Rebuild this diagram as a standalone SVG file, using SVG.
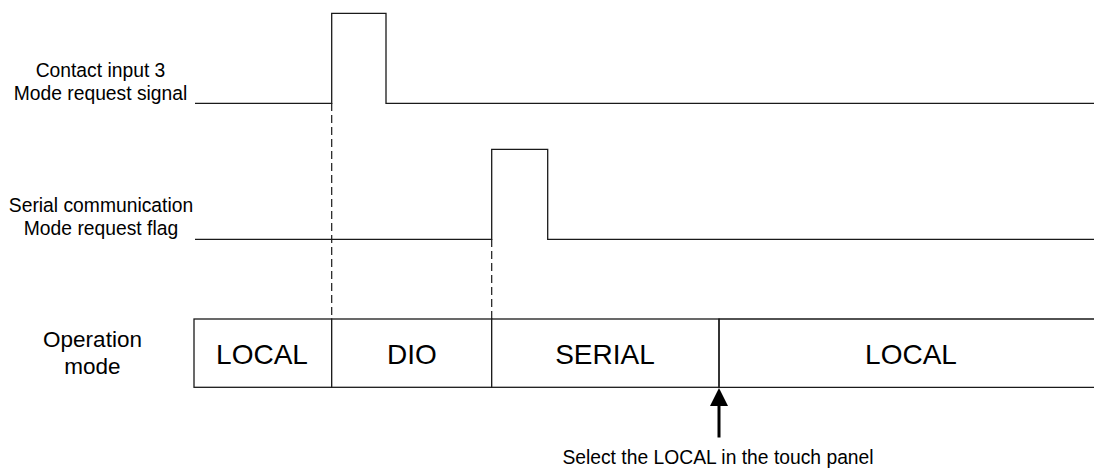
<svg xmlns="http://www.w3.org/2000/svg" width="1094" height="470" viewBox="0 0 1094 470">
<style>
.sig{fill:none;stroke:#1a1a1a;stroke-width:1.3}
.dash{fill:none;stroke:#1a1a1a;stroke-width:1.2;stroke-dasharray:8 4}
.lbl{font-family:"Liberation Sans",Arial,sans-serif;fill:#000;text-anchor:middle}
.sm{font-size:19.3px}
.md{font-size:22.5px}
.lg{font-size:28px}
.box{fill:#fff;stroke:#1a1a1a;stroke-width:1.3}
</style>
<rect width="1094" height="470" fill="#fff"/>
<g id="label-contact">
<text class="lbl sm" x="100.5" y="77">Contact input 3</text>
<text class="lbl sm" x="100.5" y="100">Mode request signal</text>
</g>
<g id="label-serial">
<text class="lbl sm" x="101" y="212">Serial communication</text>
<text class="lbl sm" x="101" y="235">Mode request flag</text>
</g>
<g id="label-opmode">
<text class="lbl md" x="92.5" y="347">Operation</text>
<text class="lbl md" x="92.5" y="374">mode</text>
</g>
<g id="connectors">
<path class="dash" d="M331.7,103 V319"/>
<path class="dash" d="M491.7,239 V319"/>
<path class="sig" d="M195,103.3 H331.7 V13.3 H386 V103.3 H1094"/>
<path class="sig" d="M195,239.3 H491.7 V149.3 H547.7 V239.3 H1094"/>
<path d="M719,437.5 V403" stroke="#000" stroke-width="3" fill="none"/>
<polygon points="719,388 710,406 728,406" fill="#000"/>
</g>
<g id="mode-local1">
<rect class="box" x="194" y="319" width="137.7" height="68.3"/>
<text class="lbl lg" x="262" y="364">LOCAL</text>
</g>
<g id="mode-dio">
<rect class="box" x="331.7" y="319" width="160" height="68.3"/>
<text class="lbl lg" x="412" y="364">DIO</text>
</g>
<g id="mode-serial">
<rect class="box" x="491.7" y="319" width="227.3" height="68.3"/>
<text class="lbl lg" x="605" y="364">SERIAL</text>
</g>
<g id="mode-local2">
<path class="sig" d="M1094,319 H719 V387.3 H1094"/>
<text class="lbl lg" x="911" y="364">LOCAL</text>
</g>
<g id="note">
<text class="lbl sm" x="718" y="464">Select the LOCAL in the touch panel</text>
</g>
</svg>
